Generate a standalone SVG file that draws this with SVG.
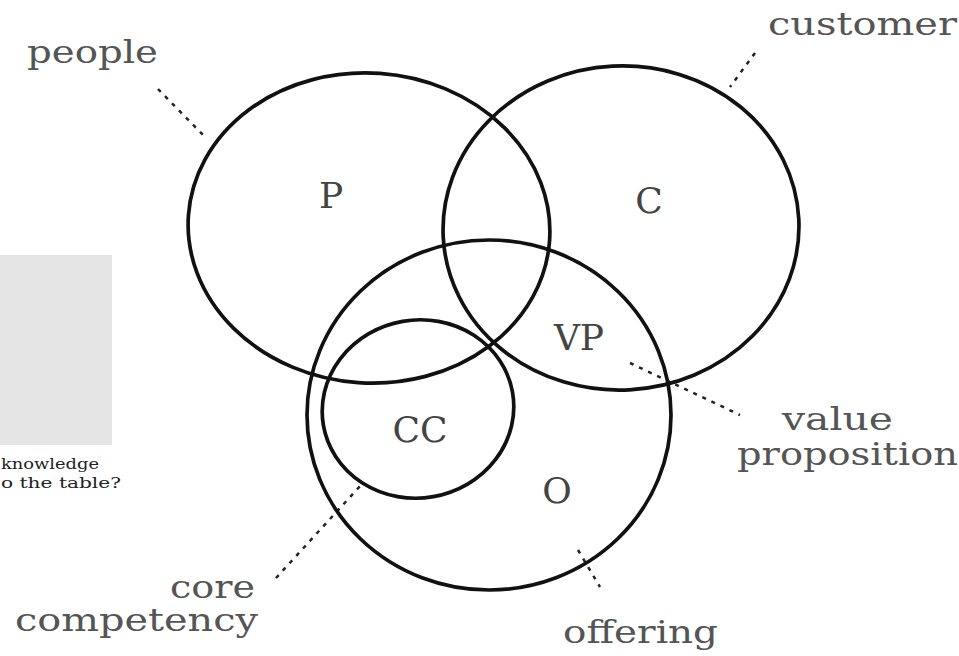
<svg xmlns="http://www.w3.org/2000/svg" width="959" height="656" viewBox="0 0 959 656">
<style>
.ring{fill:none;stroke:#111;stroke-width:3.7}
.dot{fill:none;stroke:#222;stroke-width:2.5;stroke-dasharray:4 6}
.lbl{font-family:"DejaVu Serif","Liberation Serif",serif;font-size:32px;fill:#555}
.in{font-family:"DejaVu Serif","Liberation Serif",serif;font-size:36px;fill:#444}
.small{font-family:"DejaVu Serif","Liberation Serif",serif;font-size:14px;fill:#222}
</style>
<rect x="0" y="255" width="112" height="190" fill="#e5e5e5"/>
<text class="small" x="1" y="469" textLength="98" lengthAdjust="spacingAndGlyphs">knowledge</text>
<text class="small" x="1" y="488" textLength="120" lengthAdjust="spacingAndGlyphs">o the table?</text>
<g id="connectors">
<line class="dot" x1="158" y1="89" x2="206" y2="138"/>
<line class="dot" x1="755" y1="53" x2="730" y2="87"/>
<line class="dot" x1="630" y1="363" x2="740" y2="415"/>
<line class="dot" x1="276" y1="578" x2="362" y2="484"/>
<line class="dot" x1="578" y1="550" x2="600" y2="587"/>
</g>
<g id="people">
<ellipse class="ring" cx="369" cy="228" rx="181" ry="155" transform="rotate(4 369 228)"/>
<text class="in" x="331" y="208" text-anchor="middle">P</text>
<text class="lbl" x="27" y="63" textLength="131" lengthAdjust="spacingAndGlyphs">people</text>
</g>
<g id="customer">
<ellipse class="ring" cx="621" cy="228" rx="178" ry="162" transform="rotate(-3 621 228)"/>
<text class="in" x="649" y="213" text-anchor="middle">C</text>
<text class="lbl" x="768" y="35" textLength="189" lengthAdjust="spacingAndGlyphs">customer</text>
</g>
<g id="offering">
<ellipse class="ring" cx="489" cy="415" rx="182" ry="175"/>
<text class="in" x="557" y="503" text-anchor="middle">O</text>
<text class="lbl" x="563" y="643" textLength="155" lengthAdjust="spacingAndGlyphs">offering</text>
</g>
<g id="core-competency">
<ellipse class="ring" cx="418" cy="409" rx="96" ry="89" transform="rotate(-10 418 409)"/>
<text class="in" x="420" y="442" text-anchor="middle">CC</text>
<text class="lbl" x="170" y="598" textLength="85" lengthAdjust="spacingAndGlyphs">core</text>
<text class="lbl" x="15" y="631" textLength="243" lengthAdjust="spacingAndGlyphs">competency</text>
</g>
<g id="value-proposition">
<text class="in" x="579" y="350" text-anchor="middle">VP</text>
<text class="lbl" x="782" y="430" textLength="111" lengthAdjust="spacingAndGlyphs">value</text>
<text class="lbl" x="737" y="465" textLength="221" lengthAdjust="spacingAndGlyphs">proposition</text>
</g>
</svg>
